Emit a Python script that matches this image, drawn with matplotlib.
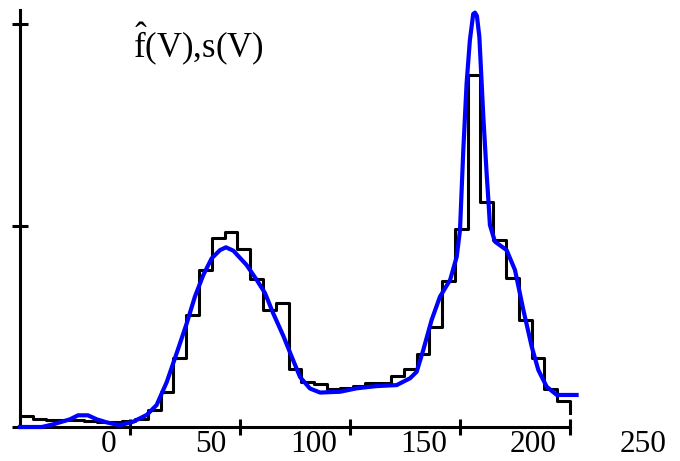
import matplotlib
matplotlib.use("Agg")
import matplotlib.pyplot as plt
import numpy as np

plt.rcParams["font.family"] = ["Liberation Serif", "DejaVu Serif"]
plt.rcParams["mathtext.fontset"] = "custom"
plt.rcParams["mathtext.rm"] = "Liberation Serif"
plt.rcParams["mathtext.it"] = "Liberation Serif:italic"

# histogram heights, one per bin between x = -50 and x = 200, plus the end point
hist_values = [
    0.055, 0.042, 0.037, 0.037, 0.035, 0.030, 0.027, 0.025, 0.030, 0.038,
    0.084, 0.172, 0.341, 0.556, 0.779, 0.936, 0.969, 0.882, 0.733, 0.581,
    0.614, 0.288, 0.222, 0.211, 0.189, 0.194, 0.203, 0.217, 0.217, 0.253,
    0.288, 0.364, 0.498, 0.725, 0.981, 1.747, 1.118, 0.928, 0.738, 0.531,
    0.344, 0.187, 0.127, 0.068,
]

# smoothed estimate s(V)
curve_x = [
    -50, -40.1, -35, -27.3, -23.6, -19.1, -15.1, -10.6, -5.3, -3.2,
    1.4, 7.6, 12.1, 16.7, 21.2, 25.8, 29.5, 33.3, 37.1, 40.9,
    43.6, 47, 53, 57.6, 61.4, 65.1, 69.7, 73.5, 77.3, 81.8,
    86.4, 95.5, 103, 112.1, 121.2, 127.3, 130.3, 133.3, 137.1, 140.9,
    145.5, 148.5, 150, 151.5, 153, 154.5, 156, 156.8, 157.7, 158.8,
    160.6, 162.1, 162.9, 163.6, 165.9, 171.2, 175, 178.8, 182.6, 185.6,
    189.4, 194, 203,
]
curve_y = [
    0.0, 0.0, 0.013, 0.038, 0.058, 0.058, 0.038, 0.023, 0.010, 0.013,
    0.026, 0.060, 0.109, 0.223, 0.366, 0.515, 0.647, 0.754, 0.837, 0.878,
    0.892, 0.875, 0.804, 0.730, 0.664, 0.564, 0.452, 0.349, 0.248, 0.191,
    0.171, 0.175, 0.192, 0.203, 0.208, 0.242, 0.274, 0.382, 0.531, 0.647,
    0.730, 0.845, 0.978, 1.375, 1.706, 1.921, 2.050, 2.057, 2.040, 1.937,
    1.540, 1.259, 1.127, 1.002, 0.920, 0.878, 0.779, 0.581, 0.399, 0.283,
    0.200, 0.159, 0.159,
]

x_ticks = [0, 50, 100, 150, 200]
y_ticks = [0, 1, 2]
tick_labels = ["0", "50", "100", "150", "200", "250"]
label_values = [0, 50, 100, 150, 200, 250]

edges = np.linspace(-50, 200, len(hist_values))

fig = plt.figure(figsize=(6.8, 4.61), dpi=100)
ax = fig.add_axes([20 / 680, 34 / 461, 550 / 680, 417 / 461])

ax.step(edges, hist_values, where="post", color="black", lw=2.2,
        clip_on=False, zorder=2)
ax.plot(curve_x, curve_y, color="#0000ff", lw=3.0, clip_on=False, zorder=3)

ax.set_xlim(-50, 200)
ax.set_ylim(0, 2.07)

for side in ["top", "right"]:
    ax.spines[side].set_visible(False)
for side in ["left", "bottom"]:
    ax.spines[side].set_linewidth(2.2)

ax.set_xticks(x_ticks)
ax.set_yticks(y_ticks)
ax.set_xticklabels([])
ax.set_yticklabels([])
ax.tick_params(direction="inout", length=11.5, width=2.2)

for val, lab in zip(label_values, tick_labels):
    ax.annotate(lab, xy=(val - 6, 0), xytext=(0, -2), textcoords="offset points",
                ha="right", va="top", fontsize=22.5, annotation_clip=False)

fig.text(133 / 680, (461 - 58) / 461, r"$\hat{\mathrm{f}}$(V),s(V)",
         fontsize=25, va="baseline", ha="left")

fig.savefig("out.png", dpi=100)
